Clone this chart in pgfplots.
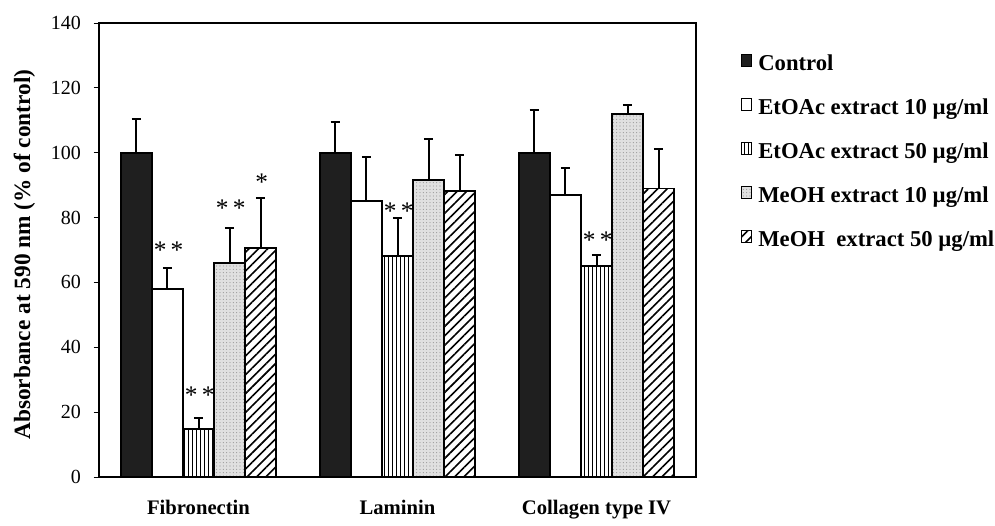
\documentclass[border=0pt]{standalone}
\usepackage{pgfplots}
\pgfplotsset{compat=1.18}
\usepackage{fontspec}
\setmainfont{Liberation Serif}
\usetikzlibrary{patterns.meta}
\begin{document}
\begin{tikzpicture}
\begin{axis}[
  name=main,
  scale only axis,
  width=447.75pt, height=340.5pt,
  xmin=-0.5, xmax=2.5, ymin=0, ymax=140,
  ytick={0,20,...,140},
  xtick={0,1,2},
  xticklabels={Fibronectin,Laminin,Collagen type IV},
  ytick pos=left, xtick pos=bottom,
  x tick style={draw=none},
  y tick style={line width=0.6pt, black},
  tick align=outside,
  major tick length=4pt,
  axis line style={line width=2pt},
  xticklabel style={font=\fontsize{15.5}{18}\selectfont\bfseries, yshift=-10pt},
  yticklabel style={font=\fontsize{15}{17}\selectfont, xshift=-6pt},
  /pgf/number format/assume math mode=true,
  ylabel={Absorbance at 590 nm (\% of control)},
  ylabel style={font=\fontsize{17.5}{20}\selectfont\bfseries, at={(axis description cs:-0.125,0.49)}, anchor=center, rotate=0},
  ybar, bar width=0.156,
  legend style={at={(1.0754,0.9356)}, anchor=north west, draw=none, fill=none,
    font=\fontsize{17}{20}\selectfont\bfseries, row sep=15.6pt, column sep=4.5pt,
    legend cell align=left, inner sep=0pt,
    nodes={inner xsep=0pt}},
  legend image code/.code={\draw[#1, line width=0.8pt] (0pt,-2pt) rectangle (7.5pt,7pt);},
  error bars/y dir=plus, error bars/y explicit,
  error bars/error bar style={line width=1.5pt, black},
  error bars/error mark options={rotate=90, mark size=3.5pt, line width=1.5pt, black},
  every axis plot/.append style={draw=black, line width=1.3pt},
  clip=false,
]
% Control
\addplot[bar shift=-0.312, fill=black!88] coordinates {
  (0,100) +- (0,10.3)
  (1,100) +- (0,9.5)
  (2,100) +- (0,13.3)
};
\addlegendentry{Control}
% EtOAc 10
\addplot[bar shift=-0.156, fill=white] coordinates {
  (0,58) +- (0,6.4)
  (1,85) +- (0,13.6)
  (2,87) +- (0,8.2)
};
\addlegendentry{EtOAc extract 10 µg/ml}
% EtOAc 50
\addplot[bar shift=0, fill=white, postaction={pattern={Lines[angle=90,distance=3pt,line width=0.5pt]}}] coordinates {
  (0,14.8) +- (0,3.4)
  (1,68.2) +- (0,11.6)
  (2,65) +- (0,3.6)
};
\addlegendentry{EtOAc extract 50 µg/ml}
% MeOH 10
\addplot[bar shift=0.156, fill=black!12, postaction={pattern={Dots[distance=2.5pt,radius=0.4pt]}, pattern color=black!45}] coordinates {
  (0,66) +- (0,10.7)
  (1,91.5) +- (0,12.8)
  (2,112) +- (0,2.6)
};
\addlegendentry{MeOH extract 10 µg/ml}
% MeOH 50
\addplot[bar shift=0.312, fill=white, postaction={pattern={Lines[angle=45,distance=5pt,line width=1.2pt]}}] coordinates {
  (0,70.6) +- (0,15.4)
  (1,88.2) +- (0,11)
  (2,89) +- (0,12)
};
\addlegendentry{MeOH\ \ extract 50 µg/ml}
% significance marks
\node[font=\fontsize{19}{19}\selectfont] at (axis cs:-0.150,70) {*\,*};
\node[font=\fontsize{19}{19}\selectfont] at (axis cs:0.006,25.3) {*\,*};
\node[font=\fontsize{19}{19}\selectfont] at (axis cs:0.162,83) {*\,*};
\node[font=\fontsize{19}{19}\selectfont] at (axis cs:0.318,91) {*};
\node[font=\fontsize{19}{19}\selectfont] at (axis cs:1.006,82) {*\,*};
\node[font=\fontsize{19}{19}\selectfont] at (axis cs:2.006,73) {*\,*};
\end{axis}
\pgfresetboundingbox
\path ([shift={(-74.25pt,-36.75pt)}]main.south west) rectangle ([shift={(224.25pt,17.25pt)}]main.north east);
\end{tikzpicture}
\end{document}
